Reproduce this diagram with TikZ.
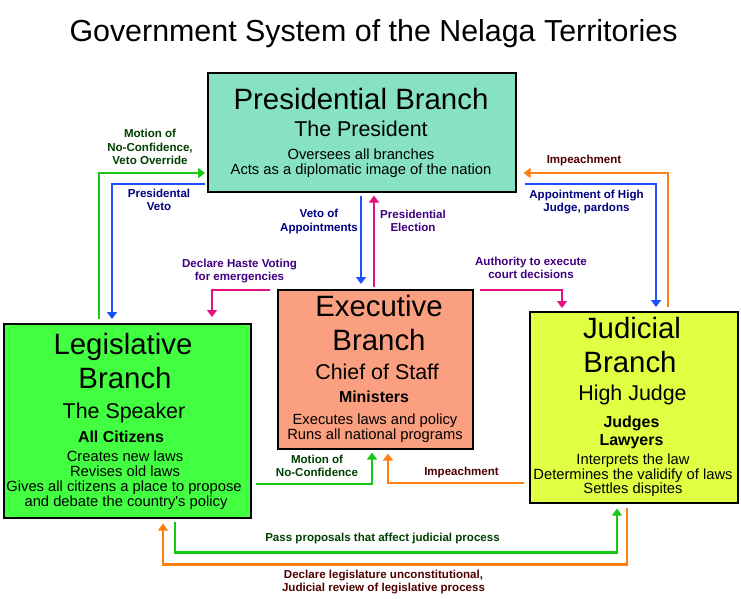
\documentclass[tikz,border=0pt]{standalone}
\usepackage{fontspec}
\setmainfont{Liberation Sans}
\usetikzlibrary{arrows.meta}
\definecolor{presfill}{RGB}{134,226,194}
\definecolor{exefill}{RGB}{250,160,128}
\definecolor{legfill}{RGB}{66,255,66}
\definecolor{judfill}{RGB}{224,255,66}
\definecolor{lgreen}{RGB}{20,200,20}
\definecolor{lblue}{RGB}{30,80,255}
\definecolor{lmag}{RGB}{228,16,128}
\definecolor{lorange}{RGB}{255,128,16}
\definecolor{tgreen}{RGB}{0,64,0}
\definecolor{tblue}{RGB}{0,0,128}
\definecolor{tpurple}{RGB}{64,0,128}
\definecolor{tred}{RGB}{80,0,0}
\begin{document}
\begin{tikzpicture}[x=1bp,y=-1bp,
  box/.style={draw=black,line width=1.6bp,anchor=north west,inner sep=0pt},
  big/.style={anchor=base,inner sep=0pt,font=\fontsize{29.5}{32}\selectfont},
  sub/.style={anchor=base,inner sep=0pt,font=\fontsize{21.5}{24}\selectfont},
  boldl/.style={anchor=base,inner sep=0pt,font=\fontsize{16}{18}\bfseries},
  body/.style={anchor=base,inner sep=0pt,font=\fontsize{14.8}{16}\selectfont},
  lbl/.style={align=center,inner sep=0pt,font=\fontsize{11.6}{13.3}\selectfont\bfseries},
  conn/.style={line width=2.4bp,-{Triangle[width=10bp,length=7bp]}}
]
\useasboundingbox (0,0) rectangle (741,599);
\fill[white] (0,0) rectangle (741,599);

% title
\node[anchor=base,inner sep=0pt,font=\fontsize{30.5}{33}\selectfont] (title) at (373.5,42) {Government System of the Nelaga Territories};

% boxes
\node[box,fill=presfill,minimum width=308bp,minimum height=119bp] (pres) at (207,72) {};
\node[box,fill=exefill,minimum width=195bp,minimum height=159bp] (exe) at (277,289) {};
\node[box,fill=legfill,minimum width=247bp,minimum height=194bp] (leg) at (3,323) {};
\node[box,fill=judfill,minimum width=208bp,minimum height=191bp] (jud) at (529,311) {};

% presidential text
\node[big] (p1) at (361,110) {Presidential Branch};
\node[sub] (p2) at (361,137) {The President};
\node[body] (p3) at (361,160) {Oversees all branches};
\node[body] (p4) at (361,175) {Acts as a diplomatic image of the nation};

% executive text
\node[big] (e1) at (379,316) {Executive};
\node[big] (e2) at (379,350) {Branch};
\node[sub] (e3) at (377,379) {Chief of Staff};
\node[boldl] (e4) at (374,402.5) {Ministers};
\node[body] (e5) at (375,424) {Executes laws and policy};
\node[body] (e6) at (375,439) {Runs all national programs};

% legislative text
\node[big] (l1) at (123,354) {Legislative};
\node[big] (l2) at (125,388) {Branch};
\node[sub] (l3) at (124,418) {The Speaker};
\node[boldl] (l4) at (121,442.5) {All Citizens};
\node[body] (l5) at (125,461.5) {Creates new laws};
\node[body] (l6) at (125,476.5) {Revises old laws};
\node[body] (l7) at (124,491.5) {Gives all citizens a place to propose};
\node[body] (l8) at (126,506.5) {and debate the country\textquotesingle s policy};

% judicial text
\node[big] (j1) at (632,338) {Judicial};
\node[big] (j2) at (630,372) {Branch};
\node[sub] (j3) at (632.5,400.5) {High Judge};
\node[boldl] (j4) at (631.5,427) {Judges};
\node[boldl] (j5) at (631.5,445.5) {Lawyers};
\node[body] (j6) at (633,464) {Interprets the law};
\node[body] (j7) at (633,479) {Determines the validify of laws};
\node[body] (j8) at (633,493.5) {Settles dispites};

% connectors
\draw[conn,lgreen,shorten <=4bp,shorten >=2bp] (leg.north -| 99,0) |- (pres.west |- 0,173);
\draw[conn,lblue,shorten <=2bp,shorten >=4bp] (pres.west |- 0,184) -| (leg.north -| 112,0);
\draw[conn,lblue,shorten <=3bp,shorten >=5bp] (pres.south -| 361,0) -- (exe.north -| 361,0);
\draw[conn,lmag,shorten <=2bp,shorten >=3bp] (exe.north -| 374,0) -- (pres.south -| 374,0);
\draw[conn,lmag,shorten <=7bp,shorten >=6bp] (exe.west |- 0,290) -| (leg.north -| 212,0);
\draw[conn,lmag,shorten <=6bp,shorten >=3bp] (exe.east |- 0,290) -| (jud.north -| 562,0);
\draw[conn,lorange,shorten <=4bp,shorten >=7bp] (jud.north -| 668,0) |- (pres.east |- 0,173);
\draw[conn,lblue,shorten <=8bp,shorten >=4bp] (pres.east |- 0,184) -| (jud.north -| 656,0);
\draw[conn,lgreen,shorten <=3bp,shorten >=5bp] (leg.south -| 175,0) -- ++(0,34) -| (jud.south -| 617,0);
\draw[conn,lorange,shorten <=4bp,shorten >=5bp] (jud.south -| 627,0) -- ++(0,61) -| (leg.south -| 163,0);
\draw[conn,lgreen,shorten <=4bp,shorten >=3bp] (leg.east |- 0,484) -| (exe.south -| 372,0);
\draw[conn,lorange,shorten <=5bp,shorten >=4bp] (jud.west |- 0,483) -| (exe.south -| 388,0);

% labels
\node[lbl,text=tgreen] (a1) at (150,147) {Motion of\\No-Confidence,\\Veto Override};
\node[lbl,text=tblue] (a2) at (159,200) {Presidental\\Veto};
\node[lbl,text=tblue] (a3) at (319,221.5) {Veto of\\Appointments};
\node[lbl,text=tpurple] (a4) at (413,220.5) {Presidential\\Election};
\node[lbl,text=tpurple] (a5) at (239.5,271) {Declare Haste Voting\\for emergencies};
\node[lbl,text=tpurple] (a6) at (531,268) {Authority to execute\\court decisions};
\node[lbl,text=tred] (a7) at (584,161) {Impeachment};
\node[lbl,text=tblue] (a8) at (586.5,202) {Appointment of High\\Judge, pardons};
\node[lbl,text=tgreen] (a9) at (317,466) {Motion of\\No-Confidence};
\node[lbl,text=tred] (a10) at (461.5,473) {Impeachment};
\node[lbl,text=tgreen] (a11) at (382.5,538.6) {Pass proposals that affect judicial process};
\node[lbl,text=tred] (a12) at (383.5,582) {Declare legislature unconstitutional,\\Judicial review of legislative process};
\end{tikzpicture}
\end{document}
